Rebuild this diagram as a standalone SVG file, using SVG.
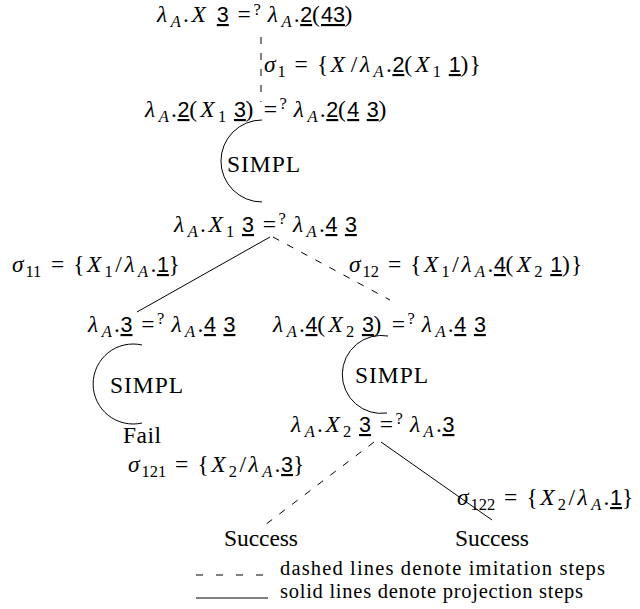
<svg xmlns="http://www.w3.org/2000/svg" width="640" height="609" viewBox="0 0 640 609">
<style>
text { font-family: "Liberation Serif", "DejaVu Serif", serif; font-size: 23.5px; fill: #000; }
.i { font-style: italic; }
.b { font-size: 16.5px; }
.u { font-family: "Liberation Sans", "DejaVu Sans", sans-serif; font-size: 21.5px; text-decoration: underline; }
.lg { font-size: 20.5px; }
.sol { stroke: #000; stroke-width: 1; fill: none; }
.dsh { stroke: #000; stroke-width: 1; fill: none; stroke-dasharray: 7 9; }
</style>
<rect width="640" height="609" fill="#fff"/>
<g id="connectors">
<line class="dsh" x1="261" y1="37" x2="261" y2="102"/>
<path class="sol" d="M262,120 A41,41 0 1,0 262,202"/>
<line class="sol" x1="270" y1="237" x2="137" y2="312"/>
<line class="dsh" x1="273" y1="237" x2="390" y2="300"/>
<path class="sol" d="M142,345 A40,40 0 1,0 142,423"/>
<path class="sol" d="M388,336 A39,39 0 1,0 387,413"/>
<line class="dsh" x1="374" y1="442" x2="265" y2="525"/>
<line class="sol" x1="381" y1="442" x2="492" y2="520"/>
</g>
<g id="n1"><text y="22"><tspan class="i" x="157">λ</tspan><tspan class="b i" x="170.7" y="27">A</tspan><tspan x="183" y="22">.</tspan><tspan class="i" x="191.5">X</tspan><tspan class="u" x="216.8">3</tspan><tspan x="237.6">=</tspan><tspan class="b" x="253.4" y="15">?</tspan><tspan class="i" x="267.7" y="22">λ</tspan><tspan class="b i" x="281.4" y="27">A</tspan><tspan x="293.7" y="22">.</tspan><tspan class="u" x="300.2">2</tspan><tspan x="311.9">(</tspan><tspan class="u" x="321">43</tspan><tspan x="344.5">)</tspan></text></g>
<g id="s1"><text y="72"><tspan class="i" x="264">σ</tspan><tspan class="b" x="277.4" y="77">1</tspan><tspan x="294.6" y="72">=</tspan><tspan x="316.9">{</tspan><tspan class="i" x="330.6">X</tspan><tspan x="350.8">/</tspan><tspan class="i" x="359.9">λ</tspan><tspan class="b i" x="373.6" y="77">A</tspan><tspan x="385.9" y="72">.</tspan><tspan class="u" x="392.4">2</tspan><tspan x="404.2">(</tspan><tspan class="i" x="415.2">X</tspan><tspan class="b" x="432.8" y="77">1</tspan><tspan class="u" x="448.8" y="72">1</tspan><tspan x="460.5">)</tspan><tspan x="469.6">}</tspan></text></g>
<g id="n2"><text y="117"><tspan class="i" x="145">λ</tspan><tspan class="b i" x="158.7" y="122">A</tspan><tspan x="171" y="117">.</tspan><tspan class="u" x="177.5">2</tspan><tspan x="189.3">(</tspan><tspan class="i" x="200.3">X</tspan><tspan class="b" x="217.9" y="122">1</tspan><tspan class="u" x="233.9" y="117">3</tspan><tspan x="245.6">)</tspan><tspan x="263.7">=</tspan><tspan class="b" x="279.5" y="109">?</tspan><tspan class="i" x="293.8" y="117">λ</tspan><tspan class="b i" x="307.5" y="122">A</tspan><tspan x="319.8" y="117">.</tspan><tspan class="u" x="326.3">2</tspan><tspan x="338.1">(</tspan><tspan class="u" x="347.2">4</tspan><tspan class="u" x="366.7">3</tspan><tspan x="378.5">)</tspan></text></g>
<g id="simpl1"><text x="227" y="172" textLength="73">SIMPL</text></g>
<g id="n3"><text y="232"><tspan class="i" x="174">λ</tspan><tspan class="b i" x="187.7" y="237">A</tspan><tspan x="200" y="232">.</tspan><tspan class="i" x="208.5">X</tspan><tspan class="b" x="226" y="237">1</tspan><tspan class="u" x="242" y="232">3</tspan><tspan x="262.8">=</tspan><tspan class="b" x="278.6" y="224">?</tspan><tspan class="i" x="292.9" y="232">λ</tspan><tspan class="b i" x="306.6" y="237">A</tspan><tspan x="318.9" y="232">.</tspan><tspan class="u" x="325.4">4</tspan><tspan class="u" x="344.9">3</tspan></text></g>
<g id="s11"><text y="272"><tspan class="i" x="12">σ</tspan><tspan class="b" x="25.4" y="277">11</tspan><tspan x="50.9" y="272">=</tspan><tspan x="73.2">{</tspan><tspan class="i" x="86.9">X</tspan><tspan class="b" x="104.4" y="277">1</tspan><tspan x="115.2" y="272">/</tspan><tspan class="i" x="124.4">λ</tspan><tspan class="b i" x="138.1" y="277">A</tspan><tspan x="150.4" y="272">.</tspan><tspan class="u" x="156.9">1</tspan><tspan x="168.6">}</tspan></text></g>
<g id="s12"><text y="272"><tspan class="i" x="349">σ</tspan><tspan class="b" x="362.4" y="277">12</tspan><tspan x="387.9" y="272">=</tspan><tspan x="410.2">{</tspan><tspan class="i" x="423.9">X</tspan><tspan class="b" x="441.4" y="277">1</tspan><tspan x="452.2" y="272">/</tspan><tspan class="i" x="461.4">λ</tspan><tspan class="b i" x="475.1" y="277">A</tspan><tspan x="487.4" y="272">.</tspan><tspan class="u" x="493.9">4</tspan><tspan x="505.6">(</tspan><tspan class="i" x="516.7">X</tspan><tspan class="b" x="534.2" y="277">2</tspan><tspan class="u" x="550.2" y="272">1</tspan><tspan x="562">)</tspan><tspan x="571.1">}</tspan></text></g>
<g id="n4l"><text y="332"><tspan class="i" x="88">λ</tspan><tspan class="b i" x="101.7" y="337">A</tspan><tspan x="114" y="332">.</tspan><tspan class="u" x="120.5">3</tspan><tspan x="141.3">=</tspan><tspan class="b" x="157.1" y="324">?</tspan><tspan class="i" x="171.4" y="332">λ</tspan><tspan class="b i" x="185.1" y="337">A</tspan><tspan x="197.4" y="332">.</tspan><tspan class="u" x="203.9">4</tspan><tspan class="u" x="223.4">3</tspan></text></g>
<g id="n4r"><text y="332"><tspan class="i" x="273">λ</tspan><tspan class="b i" x="286.7" y="337">A</tspan><tspan x="299" y="332">.</tspan><tspan class="u" x="305.5">4</tspan><tspan x="317.3">(</tspan><tspan class="i" x="328.4">X</tspan><tspan class="b" x="345.9" y="337">2</tspan><tspan class="u" x="361.9" y="332">3</tspan><tspan x="373.6">)</tspan><tspan x="391.7">=</tspan><tspan class="b" x="407.5" y="324">?</tspan><tspan class="i" x="421.8" y="332">λ</tspan><tspan class="b i" x="435.5" y="337">A</tspan><tspan x="447.8" y="332">.</tspan><tspan class="u" x="454.3">4</tspan><tspan class="u" x="473.9">3</tspan></text></g>
<g id="simpl2"><text x="110" y="393" textLength="73">SIMPL</text></g>
<g id="fail"><text x="123" y="443" textLength="38">Fail</text></g>
<g id="simpl3"><text x="355" y="383" textLength="73">SIMPL</text></g>
<g id="n5"><text y="432"><tspan class="i" x="291">λ</tspan><tspan class="b i" x="304.7" y="437">A</tspan><tspan x="317" y="432">.</tspan><tspan class="i" x="325.5">X</tspan><tspan class="b" x="343" y="437">2</tspan><tspan class="u" x="359" y="432">3</tspan><tspan x="379.8">=</tspan><tspan class="b" x="395.6" y="424">?</tspan><tspan class="i" x="409.9" y="432">λ</tspan><tspan class="b i" x="423.6" y="437">A</tspan><tspan x="435.9" y="432">.</tspan><tspan class="u" x="442.4">3</tspan></text></g>
<g id="s121"><text y="472"><tspan class="i" x="128">σ</tspan><tspan class="b" x="141.4" y="477">121</tspan><tspan x="175.1" y="472">=</tspan><tspan x="197.4">{</tspan><tspan class="i" x="211.2">X</tspan><tspan class="b" x="228.7" y="477">2</tspan><tspan x="239.5" y="472">/</tspan><tspan class="i" x="248.6">λ</tspan><tspan class="b i" x="262.3" y="477">A</tspan><tspan x="274.6" y="472">.</tspan><tspan class="u" x="281.1">3</tspan><tspan x="292.9">}</tspan></text></g>
<g id="s122"><text y="505"><tspan class="i" x="457">σ</tspan><tspan class="b" x="470.4" y="510">122</tspan><tspan x="504.1" y="505">=</tspan><tspan x="526.4">{</tspan><tspan class="i" x="540.2">X</tspan><tspan class="b" x="557.7" y="510">2</tspan><tspan x="568.5" y="505">/</tspan><tspan class="i" x="577.6">λ</tspan><tspan class="b i" x="591.3" y="510">A</tspan><tspan x="603.6" y="505">.</tspan><tspan class="u" x="610.1">1</tspan><tspan x="621.9">}</tspan></text></g>
<g id="succ1"><text x="224" y="546" textLength="74">Success</text></g>
<g id="succ2"><text x="455" y="546" textLength="74">Success</text></g>
<g id="legend">
<line class="dsh" x1="196" y1="575" x2="268" y2="575" style="stroke-dasharray:7 13"/>
<text class="lg" x="280" y="575" textLength="325">dashed lines denote imitation steps</text>
<line class="sol" x1="196" y1="598" x2="268" y2="598"/>
<text class="lg" x="280" y="598" textLength="303">solid lines denote projection steps</text>
</g>
</svg>
